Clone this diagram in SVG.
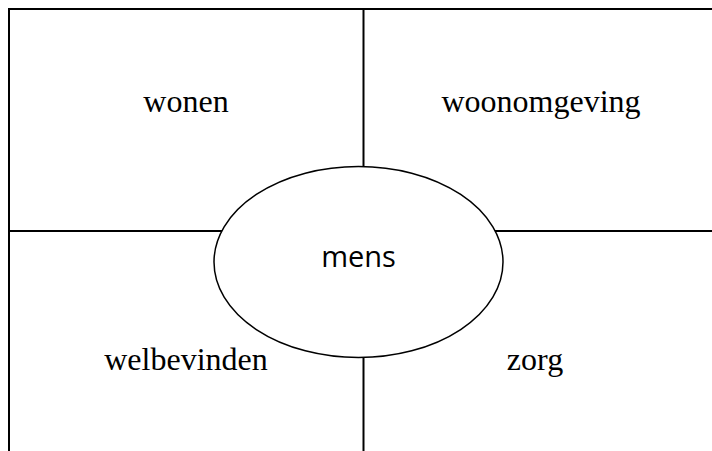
<svg xmlns="http://www.w3.org/2000/svg" width="712" height="451" viewBox="0 0 712 451">
<style>
.ln{stroke:#000;stroke-width:2;fill:none}
.t{font-family:"Liberation Serif",serif;font-size:32px;fill:#000;text-anchor:middle}
.m{font-family:"Open Sans",sans-serif;font-size:29px;fill:#000;text-anchor:middle}
</style>
<rect width="712" height="451" fill="#fff"/>
<g id="connectors">
<path class="ln" d="M9 451V9H712"/>
<path class="ln" d="M363.5 9V167"/>
<path class="ln" d="M363.5 357V451"/>
<path class="ln" d="M9 231H222"/>
<path class="ln" d="M495 231H712"/>
</g>
<g id="wonen"><text class="t" x="186" y="112">wonen</text></g>
<g id="woonomgeving"><text class="t" x="541" y="112">woonomgeving</text></g>
<g id="welbevinden"><text class="t" x="186" y="370">welbevinden</text></g>
<g id="zorg"><text class="t" x="535" y="370">zorg</text></g>
<g id="mens">
<ellipse cx="358.5" cy="262" rx="144.5" ry="95.5" fill="#fff" stroke="#000" stroke-width="1.5"/>
<text class="m" x="358.5" y="267">mens</text>
</g>
</svg>
